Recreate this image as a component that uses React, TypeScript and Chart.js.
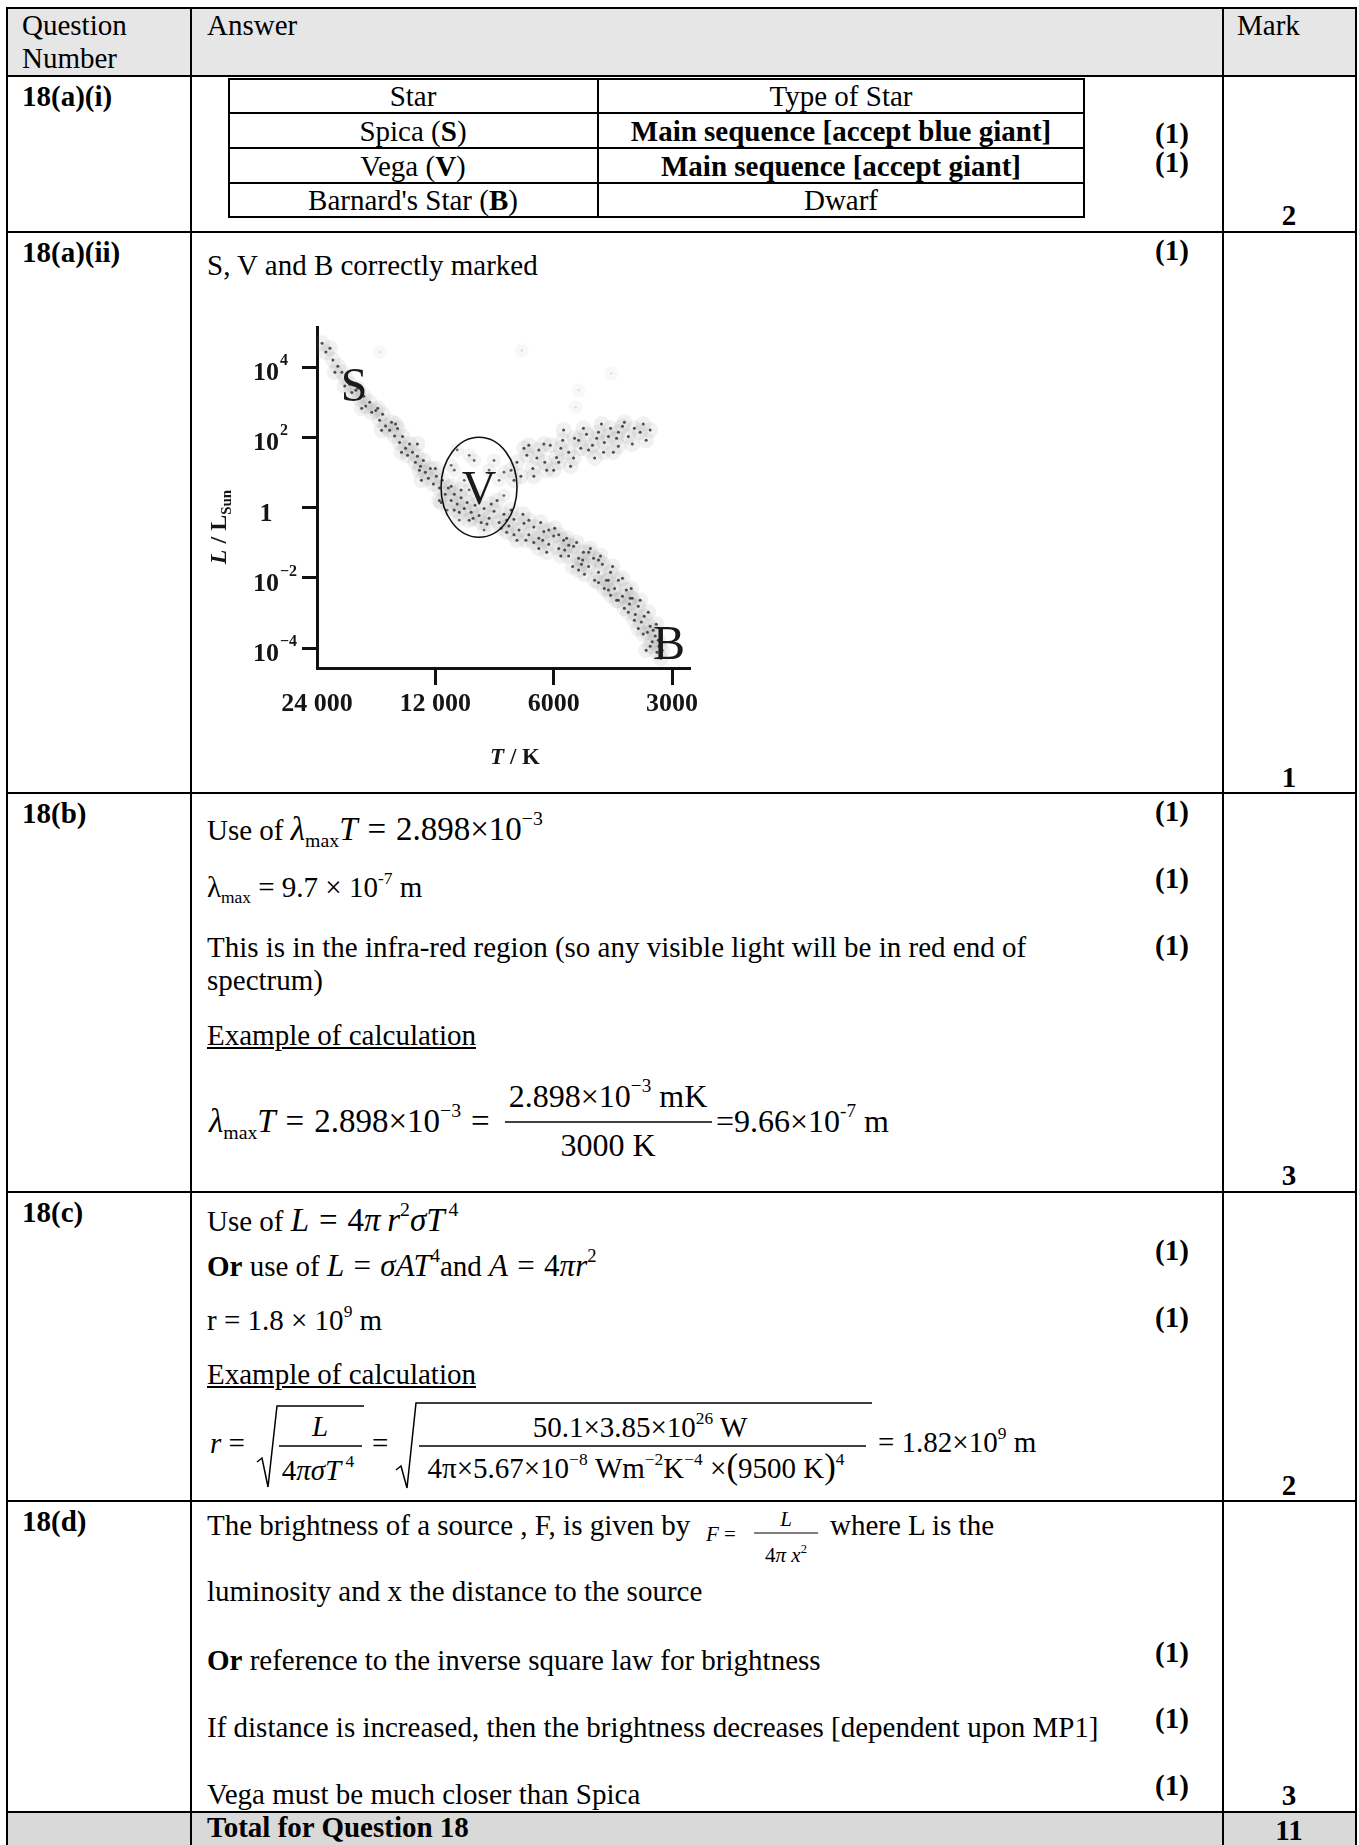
import React, { useEffect, useRef } from 'react';
import { Chart, registerables } from 'chart.js';

Chart.register(...registerables);

const SERIF = '"Liberation Serif", "Times New Roman", Times, serif';
const F = 29;

// ---------- HR diagram data ----------
// main-sequence stars: temperature (K) and luminosity (L / L_sun)
const msTemp = [
  23300, 22780, 22250, 21870, 21240, 20750, 20270, 19810, 19570, 19120,
  18690, 18250, 18040, 17630, 17420, 17020, 16630, 16340, 16060, 15690,
  15510, 15240, 14970, 14800, 14540, 14290, 14120, 13960, 13720, 13490,
  13330, 13090, 12870, 12720, 12500, 12360, 12140, 11930, 11720, 11520,
  11320, 11120, 10940, 10740, 10560, 10320, 10130, 9960, 9730, 9510,
  9290, 9020, 8760, 8510, 8260, 8030, 7800, 7570, 7350, 7140,
  6940, 6740, 6545, 6355, 6175, 6000, 5825, 5660, 5495, 5340,
  5185, 5040, 4890, 4750, 4615, 4510, 4405, 4300, 4200, 4107,
  4010, 3920, 3850, 3785, 3720, 3655, 3590, 3530, 3465, 3410,
  3370, 3310, 3275, 3235, 3200, 9840, 8360, 6940, 5825, 5185,
  4890, 4615, 4353, 4107, 3875, 3655, 6175, 6545, 7570, 8870,
  10740, 11720, 13170, 4615, 5495, 3350, 4300, 5100, 7060, 7900,
  21610, 20390, 18900, 18470, 16820, 16440, 15150, 14630, 13330, 13020,
  12000, 11590, 10940, 10430, 9390, 9175, 8650, 8165, 7700, 7440,
  7185, 6740, 6475, 6250, 5965, 5755, 5560, 5370, 5245, 5010,
  4840, 4720, 4560, 4460, 4250, 4150, 4010, 3965, 3810, 3740,
  3615, 3550, 3448, 3410, 3290, 3253, 3180, 3490, 6400, 5065,
  4353, 3830, 9620, 10320, 7900, 5625,
];
const msLum = [
  4.8e4, 2.7e4, 3.5e4, 1.6e4, 1.07e4, 7.2e3, 4.9e3, 3.3e3, 1.9e3, 2.2e3,
  1.3e3, 1.5e3, 780, 1000, 520, 590, 310, 460, 210, 160,
  270, 110, 180, 72, 107, 49, 31, 65, 38, 19.5,
  29, 15, 22, 10.2, 6.9, 13, 4.7, 7.8, 3.6, 6.0,
  2.4, 3.6, 1.6, 2.4, 1.26, 1.9, 0.95, 1.4, 0.74, 1.17,
  0.6, 0.95, 0.5, 0.79, 0.38, 0.65, 0.3, 0.47, 0.23, 0.36,
  0.17, 0.28, 0.135, 0.21, 0.091, 0.155, 0.069, 0.117, 0.042, 0.079,
  0.036, 0.054, 0.021, 0.036, 0.0145, 0.0245, 0.0085, 0.0145, 0.005, 0.0085,
  0.003, 0.0045, 0.0018, 0.0026, 9.1e-4, 1.55e-3, 5.5e-4, 8.1e-4, 2.8e-4, 4.2e-4,
  1.5e-4, 2.2e-4, 7.6e-5, 1.12e-4, 5.1e-5, 0.44, 1.6, 0.44, 0.17, 0.0166,
  0.054, 0.032, 0.0045, 0.0023, 1.05e-3, 3.6e-4, 0.23, 0.069, 0.17, 0.34,
  0.85, 1.6, 11.7, 0.0074, 0.085, 3.2e-4, 0.0032, 0.0245, 0.117, 0.2,
  7.2e3, 2.9e3, 2.5e3, 680, 680, 160, 240, 38, 65, 6.0,
  13, 1.4, 4.1, 0.74, 2.1, 0.38, 1.26, 0.26, 0.85, 0.117,
  0.65, 0.102, 0.38, 0.054, 0.26, 0.042, 0.135, 0.021, 0.102, 0.0126,
  0.069, 0.0085, 0.042, 0.005, 0.021, 0.0023, 0.0098, 1.35e-3, 0.005, 6.2e-4,
  0.0023, 2.5e-4, 1.05e-3, 1.12e-4, 4.8e-4, 1.66e-4, 8.7e-5, 8.7e-5, 0.117, 0.032,
  0.0085, 0.0026, 0.5, 3.2, 0.44, 0.062,
];
// giant branch
const giantTemp = [
  7700, 7440, 7270, 7020, 6780, 6545, 6320, 6120, 5900, 5690,
  5495, 5310, 5120, 4950, 4780, 4615, 4460, 4300, 4150, 4010,
  3875, 3740, 3615, 6250, 5825, 5340, 4890, 4480, 4107, 6940,
  7570, 3410, 7140, 6740, 6355, 6000, 5660, 5435, 5040, 4720,
  4535, 4230, 3965, 3785, 3550, 3490, 6620, 5185, 4353, 4107,
  4665, 5755,
];
const giantLum = [
  11.7, 19.5, 7.8, 31, 13, 44, 19.5, 60, 27, 83,
  38, 95, 49, 123, 60, 141, 72, 182, 95, 209,
  107, 182, 141, 11.7, 19.5, 26, 44, 38, 56, 60,
  6.0, 162, 49, 7.8, 65, 11.7, 162, 15, 182, 26,
  240, 38, 270, 65, 240, 83, 26, 83, 107, 141,
  95, 49,
];
// stars scattered inside the ring round V
const ringTemp = [10740, 10130, 9560, 8760, 8260, 10430, 9020, 8030, 9840, 11190, 10560, 9840, 8510, 8030, 10940];
const ringLum = [11.7, 6.0, 22, 11.7, 6.0, 0.44, 0.23, 2.2, 31, 0.85, 44, 3.2, 22, 10.2, 16];
// faint upper stars
const upperTemp = [16630, 7230, 5185, 4280, 5280];
const upperLum = [2.7e4, 3.0e4, 2.2e3, 6.7e3, 720];

// axes
const xTickValues = [24000, 12000, 6000, 3000];
const xTickLabels = ['24 000', '12 000', '6000', '3000'];
const yTickValues = [1e4, 1e2, 1, 1e-2, 1e-4];
const yTickBase = ['10', '10', '1', '10', '10'];
const yTickExp = ['4', '2', '', '\u22122', '\u22124'];

// marked stars
const starLetters = ['S', 'V', 'B'];
const starTemp = [19300, 9290, 3053];
const starLum = [3.1e3, 3.6, 1.4e-4];
const circledTemp = 9290;
const circledLum = 3.8;

const pts = (t: number[], l: number[]) => t.map((x, i) => ({ x, y: l[i] }));

const hrOverlay = {
  id: 'hrOverlay',
  afterDatasetsDraw(chart: any) {
    const { ctx, scales } = chart;
    const xs = scales.x;
    const ys = scales.y;
    ctx.save();
    ctx.beginPath();
    ctx.ellipse(xs.getPixelForValue(circledTemp), ys.getPixelForValue(circledLum), 38, 50, 0, 0, Math.PI * 2);
    ctx.lineWidth = 1.6;
    ctx.strokeStyle = '#111';
    ctx.stroke();
    ctx.font = `48px ${SERIF}`;
    ctx.fillStyle = '#1a1a1a';
    ctx.textAlign = 'center';
    ctx.textBaseline = 'alphabetic';
    starLetters.forEach((s, i) => {
      ctx.fillText(s, xs.getPixelForValue(starTemp[i]), ys.getPixelForValue(starLum[i]) + 16);
    });
    ctx.restore();
  },
  afterDraw(chart: any) {
    const { ctx, chartArea: ca, scales } = chart;
    const xs = scales.x;
    const ys = scales.y;
    ctx.save();
    ctx.fillStyle = '#151515';
    ctx.textBaseline = 'alphabetic';
    yTickValues.forEach((v, i) => {
      const py = ys.getPixelForValue(v);
      const cx = ca.left - 51;
      ctx.font = `bold 26px ${SERIF}`;
      ctx.textAlign = 'center';
      ctx.fillText(yTickBase[i], cx, py + 13);
      if (yTickExp[i]) {
        const w = ctx.measureText(yTickBase[i]).width;
        ctx.font = `bold 16px ${SERIF}`;
        ctx.textAlign = 'left';
        ctx.fillText(yTickExp[i], cx + w / 2 + 1, py - 2);
      }
    });
    ctx.font = `bold 26px ${SERIF}`;
    ctx.textAlign = 'center';
    xTickValues.forEach((v, i) => {
      ctx.fillText(xTickLabels[i], xs.getPixelForValue(v), ca.bottom + 43);
    });
    // x title  "T / K"
    ctx.textAlign = 'left';
    ctx.font = `italic bold 23px ${SERIF}`;
    const wT = ctx.measureText('T').width;
    ctx.font = `bold 23px ${SERIF}`;
    const wR = ctx.measureText(' / K').width;
    const x0 = ca.left + 198 - (wT + wR) / 2;
    const by = ca.bottom + 96;
    ctx.font = `italic bold 23px ${SERIF}`;
    ctx.fillText('T', x0, by);
    ctx.font = `bold 23px ${SERIF}`;
    ctx.fillText(' / K', x0 + wT, by);
    // y title  "L / L_Sun"
    ctx.translate(ca.left - 91, ca.top + 200);
    ctx.rotate(-Math.PI / 2);
    ctx.font = `italic bold 24px ${SERIF}`;
    const wL = ctx.measureText('L').width;
    ctx.font = `bold 24px ${SERIF}`;
    const wM = ctx.measureText(' / L').width;
    ctx.font = `bold 15px ${SERIF}`;
    const wS = ctx.measureText('Sun').width;
    const sx = -(wL + wM + wS) / 2;
    ctx.font = `italic bold 24px ${SERIF}`;
    ctx.fillText('L', sx, 0);
    ctx.font = `bold 24px ${SERIF}`;
    ctx.fillText(' / L', sx + wL, 0);
    ctx.font = `bold 15px ${SERIF}`;
    ctx.fillText('Sun', sx + wL + wM, 5);
    ctx.restore();
  },
};

function HRChart() {
  const ref = useRef<HTMLCanvasElement>(null);
  useEffect(() => {
    const dot = (data: any[], color: string, r: number) => ({
      data,
      pointRadius: r,
      backgroundColor: color,
      pointBackgroundColor: color,
      borderWidth: 0,
      pointBorderWidth: 0,
      borderColor: 'rgba(0,0,0,0)',
      pointBorderColor: 'rgba(0,0,0,0)',
      showLine: false,
    });
    const ms = pts(msTemp, msLum);
    const gi = pts(giantTemp, giantLum);
    const ri = pts(ringTemp, ringLum);
    const up = pts(upperTemp, upperLum);
    const chart = new Chart(ref.current as HTMLCanvasElement, {
      type: 'scatter',
      data: {
        datasets: [
          dot(ms, 'rgba(50,50,50,0.85)', 1.5),
          dot(gi, 'rgba(50,50,50,0.85)', 1.5),
          dot(ri, 'rgba(60,60,60,0.75)', 1.4),
          dot(up, 'rgba(185,185,185,0.45)', 1.2),
          dot(ms, 'rgba(140,140,140,0.12)', 8),
          dot(gi, 'rgba(140,140,140,0.12)', 8),
          dot(ri, 'rgba(150,150,150,0.1)', 7),
          dot(up, 'rgba(205,205,205,0.14)', 7),
        ],
      } as any,
      options: {
        animation: false,
        responsive: false,
        events: [],
        layout: { padding: { left: 0, top: 27, right: 25, bottom: 0 } },
        plugins: { legend: { display: false }, tooltip: { enabled: false }, title: { display: false } },
        scales: {
          x: {
            type: 'logarithmic',
            reverse: true,
            min: 2700,
            max: 24000,
            position: 'bottom',
            afterBuildTicks: (s: any) => {
              s.ticks = xTickValues.map((v) => ({ value: v }));
            },
            afterFit: (s: any) => {
              s.height = 112;
            },
            ticks: { display: false },
            grid: {
              display: true,
              drawOnChartArea: false,
              drawTicks: true,
              tickLength: 17,
              tickWidth: 3,
              tickColor: (c: any) => (c.tick && c.tick.value === 24000 ? 'rgba(0,0,0,0)' : '#111'),
            },
            border: { display: true, width: 3, color: '#111' },
          },
          y: {
            type: 'logarithmic',
            min: 2.7e-5,
            max: 1.4e5,
            position: 'left',
            afterBuildTicks: (s: any) => {
              s.ticks = yTickValues.map((v) => ({ value: v }));
            },
            afterFit: (s: any) => {
              s.width = 122;
            },
            ticks: { display: false },
            grid: {
              display: true,
              drawOnChartArea: false,
              drawTicks: true,
              tickLength: 15,
              tickWidth: 3,
              tickColor: '#111',
            },
            border: { display: true, width: 3, color: '#111' },
          },
        },
      } as any,
      plugins: [hrOverlay],
    });
    return () => chart.destroy();
  }, []);
  return (
    <canvas
      ref={ref}
      width={520}
      height={480}
      style={{ position: 'absolute', left: 195, top: 300, width: 520, height: 480 }}
    />
  );
}

// ---------- text helpers ----------
type TP = {
  x?: number;
  c?: number;
  b: number;
  s?: number;
  bold?: boolean;
  italic?: boolean;
  u?: boolean;
  children: React.ReactNode;
};
function T({ x, c, b, s = F, bold, italic, u, children }: TP) {
  const style: React.CSSProperties = {
    position: 'absolute',
    top: b - 0.8375 * s,
    fontSize: s,
    lineHeight: `${s}px`,
    whiteSpace: 'nowrap',
    fontWeight: bold ? 700 : 400,
    fontStyle: italic ? 'italic' : 'normal',
    textDecoration: u ? 'underline' : 'none',
  };
  if (c !== undefined) {
    style.left = c - 400;
    style.width = 800;
    style.textAlign = 'center';
  } else {
    style.left = x;
  }
  return <div style={style}>{children}</div>;
}
const Sup = ({ children }: { children: React.ReactNode }) => (
  <span style={{ fontSize: '0.6em', position: 'relative', top: '-0.75em', lineHeight: 0 }}>{children}</span>
);
const Sub = ({ children }: { children: React.ReactNode }) => (
  <span style={{ fontSize: '0.6em', position: 'relative', top: '0.35em', lineHeight: 0 }}>{children}</span>
);
const Eq = ({ s, children }: { s: number; children: React.ReactNode }) => (
  <span style={{ fontSize: s, lineHeight: 0 }}>{children}</span>
);
const Op = ({ children, m = 0.3 }: { children: React.ReactNode; m?: number }) => (
  <span style={{ margin: `0 ${m}em` }}>{children}</span>
);

const HL = ({ y, x1, x2, t = 2 }: { y: number; x1: number; x2: number; t?: number }) => (
  <div style={{ position: 'absolute', left: x1, top: y, width: x2 - x1, height: t, background: '#000' }} />
);
const VL = ({ x, y1, y2, t = 2 }: { x: number; y1: number; y2: number; t?: number }) => (
  <div style={{ position: 'absolute', left: x, top: y1, width: t, height: y2 - y1, background: '#000' }} />
);

const rowLines = [7, 75, 231, 792, 1191, 1500, 1811];
const colLines = [6, 190, 1222, 1355];
const innerRows = [78, 112, 147, 182, 216];
const innerCols = [228, 597, 1083];

export default function App() {
  return (
    <div
      style={{
        position: 'absolute',
        left: 0,
        top: 0,
        width: 1359,
        height: 1845,
        overflow: 'hidden',
        background: '#fff',
        fontFamily: SERIF,
        color: '#000',
      }}
    >
      <div style={{ position: 'absolute', left: 8, top: 9, width: 1347, height: 66, background: '#e6e6e6' }} />
      <div style={{ position: 'absolute', left: 8, top: 1813, width: 1347, height: 40, background: '#d9d9d9' }} />
      {rowLines.map((y) => (
        <HL key={'r' + y} y={y} x1={6} x2={1357} />
      ))}
      {colLines.map((x) => (
        <VL key={'c' + x} x={x} y1={7} y2={1845} />
      ))}
      {innerRows.map((y) => (
        <HL key={'ir' + y} y={y} x1={228} x2={1085} />
      ))}
      {innerCols.map((x) => (
        <VL key={'ic' + x} x={x} y1={78} y2={218} />
      ))}

      {/* header */}
      <T x={22} b={35}>Question</T>
      <T x={22} b={68}>Number</T>
      <T x={207} b={35}>Answer</T>
      <T x={1237} b={35}>Mark</T>

      {/* 18(a)(i) */}
      <T x={22} b={106} bold>18(a)(i)</T>
      <T c={413} b={106}>Star</T>
      <T c={841} b={106}>Type of Star</T>
      <T c={413} b={141.5}>
        Spica (<b>S</b>)
      </T>
      <T c={841} b={141.5} bold>Main sequence [accept blue giant]</T>
      <T c={413} b={176}>
        Vega (<b>V</b>)
      </T>
      <T c={841} b={176} bold>Main sequence [accept giant]</T>
      <T c={413} b={210.5}>
        Barnard's Star (<b>B</b>)
      </T>
      <T c={841} b={210.5}>Dwarf</T>
      <T x={1155} b={143} bold>(1)</T>
      <T x={1155} b={172} bold>(1)</T>
      <T c={1289} b={225} bold>2</T>

      {/* 18(a)(ii) */}
      <T x={22} b={262} bold>18(a)(ii)</T>
      <T x={207} b={275}>S, V and B correctly marked</T>
      <T x={1155} b={260} bold>(1)</T>
      <HRChart />
      <T c={1289} b={787} bold>1</T>

      {/* 18(b) */}
      <T x={22} b={823} bold>18(b)</T>
      <T x={207} b={840}>
        Use of{' '}
        <Eq s={33}>
          <i>λ</i>
          <Sub>max</Sub>
          <i>T</i>
          <Op>=</Op>2.898×10<Sup>−3</Sup>
        </Eq>
      </T>
      <T x={1155} b={821} bold>(1)</T>
      <T x={207} b={897}>
        λ<Sub>max</Sub> = 9.7 × 10<Sup>-7</Sup> m
      </T>
      <T x={1155} b={888} bold>(1)</T>
      <T x={207} b={957}>This is in the infra-red region (so any visible light will be in red end of</T>
      <T x={1155} b={955} bold>(1)</T>
      <T x={207} b={990}>spectrum)</T>
      <T x={207} b={1045} u>Example of calculation</T>
      <T x={209} b={1132}>
        <Eq s={33}>
          <i>λ</i>
          <Sub>max</Sub>
          <i>T</i>
          <Op>=</Op>2.898×10<Sup>−3</Sup>
          <Op>=</Op>
        </Eq>
      </T>
      <T c={608} b={1107}>
        <Eq s={32}>
          2.898×10<Sup>−3</Sup> mK
        </Eq>
      </T>
      <T c={608} b={1156}>
        <Eq s={32}>3000 K</Eq>
      </T>
      <T x={716} b={1132}>
        <Eq s={32}>
          =9.66×10<Sup>-7</Sup> m
        </Eq>
      </T>
      <T c={1289} b={1185} bold>3</T>

      {/* 18(c) */}
      <T x={22} b={1222} bold>18(c)</T>
      <T x={207} b={1231}>
        Use of{' '}
        <Eq s={33}>
          <i>L</i>
          <Op>=</Op>4<i>π</i>
          {'\u2009'}
          <i>r</i>
          <Sup>2</Sup>
          <i>σT</i>
          <Sup>{'\u2009'}4</Sup>
        </Eq>
      </T>
      <T x={1155} b={1260} bold>(1)</T>
      <T x={207} b={1276}>
        <b>Or</b> use of{' '}
        <Eq s={31}>
          <i>L</i>
          <Op>=</Op>
          <i>σAT</i>
          <Sup>4</Sup>
        </Eq>
        and{' '}
        <Eq s={31}>
          <i>A</i>
          <Op>=</Op>4<i>πr</i>
          <Sup>2</Sup>
        </Eq>
      </T>
      <T x={207} b={1330}>
        r = 1.8 × 10<Sup>9</Sup> m
      </T>
      <T x={1155} b={1327} bold>(1)</T>
      <T x={207} b={1384} u>Example of calculation</T>
      <T x={210} b={1453}>
        <i>r</i> =
      </T>
      <T c={320} b={1436}>
        <i>L</i>
      </T>
      <T c={318} b={1480}>
        4<i>πσT</i>
        <Sup> 4</Sup>
      </T>
      <T x={372} b={1453}>=</T>
      <T c={640} b={1437}>
        50.1×3.85×10<Sup>26</Sup> W
      </T>
      <T c={636} b={1478}>
        4π×5.67×10<Sup>−8</Sup> Wm<Sup>−2</Sup>K<Sup>−4</Sup> ×
        <span style={{ fontSize: '1.2em', lineHeight: 0 }}>(</span>9500 K
        <span style={{ fontSize: '1.2em', lineHeight: 0 }}>)</span>
        <Sup>4</Sup>
      </T>
      <T x={878} b={1452}>
        = 1.82×10<Sup>9</Sup> m
      </T>
      <T c={1289} b={1495} bold>2</T>

      {/* 18(d) */}
      <T x={22} b={1531} bold>18(d)</T>
      <T x={207} b={1535}>The brightness of a source , F, is given by</T>
      <T x={706} b={1542} s={21}>
        <i>F</i> =
      </T>
      <T c={786} b={1527} s={21}>
        <i>L</i>
      </T>
      <T c={786} b={1563} s={21}>
        4<i>π x</i>
        <Sup>2</Sup>
      </T>
      <T x={830} b={1535}>where L is the</T>
      <T x={207} b={1601}>luminosity and x the distance to the source</T>
      <T x={207} b={1670}>
        <b>Or</b> reference to the inverse square law for brightness
      </T>
      <T x={1155} b={1662} bold>(1)</T>
      <T x={207} b={1737}>If distance is increased, then the brightness decreases [dependent upon MP1]</T>
      <T x={1155} b={1728} bold>(1)</T>
      <T x={207} b={1804}>Vega must be much closer than Spica</T>
      <T x={1155} b={1795} bold>(1)</T>
      <T c={1289} b={1805} bold>3</T>

      {/* total */}
      <T x={207} b={1837} bold>Total for Question 18</T>
      <T c={1289} b={1840} bold>11</T>

      <svg
        width={1359}
        height={1845}
        style={{ position: 'absolute', left: 0, top: 0, pointerEvents: 'none' }}
      >
        <g stroke="#000" fill="none" strokeWidth={1.5}>
          <line x1={505} x2={712} y1={1122} y2={1122} />
          <line x1={279} x2={362} y1={1446} y2={1446} />
          <line x1={419} x2={866} y1={1446} y2={1446} />
          <line x1={754} x2={818} y1={1533} y2={1533} strokeWidth={1.2} />
          <path d="M257,1462 L262,1458 L268,1487 L277,1406 L364,1406" />
          <path d="M396,1470 L401,1466 L407,1488 L416,1403 L872,1403" />
        </g>
      </svg>
    </div>
  );
}
